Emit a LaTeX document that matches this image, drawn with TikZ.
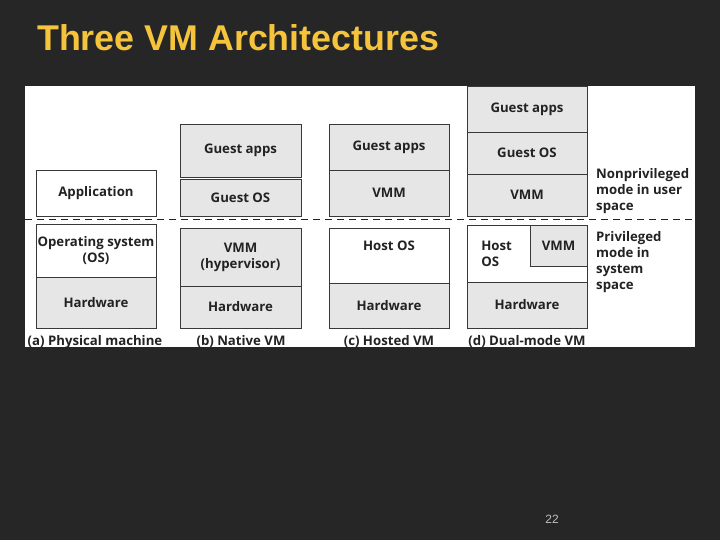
\documentclass[tikz,border=0pt]{standalone}
\usepackage{fontspec}
\setmainfont{Open Sans}
\newfontfamily\titlefont{Liberation Sans}
\usepackage{xcolor}
\usepackage{tikz}
\usetikzlibrary{positioning}

\definecolor{slidebg}{HTML}{262626}
\definecolor{titleyellow}{HTML}{F6C43C}
\definecolor{layergray}{HTML}{E6E6E6}
\definecolor{inkdark}{HTML}{222222}

\begin{document}
\begin{tikzpicture}[
  x=1pt, y=-1pt,
  layer/.style={draw=inkdark!90, line width=0.6pt, inner sep=0pt,
                align=center, font=\bfseries\fontsize{13.2}{16}\selectfont,
                text=inkdark},
  shade/.style={layer, fill=layergray},
  plain/.style={layer, fill=white},
  caption/.style={font=\bfseries\fontsize{13.2}{15}\selectfont, text=inkdark,
                  anchor=base, inner sep=0pt},
  modetext/.style={font=\bfseries\fontsize{13.2}{16}\selectfont, text=inkdark,
                   align=left, anchor=north west, inner sep=0pt},
]

% === Slide background and panel ===
\fill[slidebg] (0,0) rectangle (720,540);
\useasboundingbox (0,0) rectangle (720,540);
\fill[white] (25,86) rectangle (695,347);

\node[font=\titlefont\bfseries\fontsize{35.8}{40}\selectfont, text=titleyellow,
      anchor=west, inner sep=0pt] (title) at (37,38) {Three VM Architectures};

% === (a) Physical machine ===
\node[plain, minimum width=120, minimum height=46] (appA) at (96,193) {Application};
\node[plain, minimum width=120, minimum height=53] (osA) at (96,250.5)
  {Operating system\\(OS)};
\node[shade, minimum width=120, minimum height=51] (hwA) at (96,302.5) {Hardware};

% === (b) Native VM ===
\node[shade, minimum width=121, minimum height=53] (gappsB) at (240.5,150.5) {Guest apps};
\node[shade, minimum width=121, minimum height=37] (gosB) at (240.5,197.5) {Guest OS};
\node[shade, minimum width=121, minimum height=58] (vmmB) at (240.5,257)
  {VMM\\(hypervisor)};
\node[shade, minimum width=121, minimum height=42] (hwB) at (240.5,307) {Hardware};

% === (c) Hosted VM ===
\node[shade, minimum width=120, minimum height=46] (gappsC) at (389,147) {Guest apps};
\node[shade, minimum width=120, minimum height=46] (vmmC) at (389,193) {VMM};
\node[plain, minimum width=120, minimum height=55] (hostC) at (389,255.5) {};
\node[layer, draw=none] (hostCtext) at (389,246) {Host OS};
\node[shade, minimum width=120, minimum height=45] (hwC) at (389,305.5) {Hardware};

% === (d) Dual-mode VM ===
\node[shade, minimum width=120, minimum height=46] (gappsD) at (527,109) {Guest apps};
\node[shade, minimum width=120, minimum height=42] (gosD) at (527,153) {Guest OS};
\node[shade, minimum width=120, minimum height=42] (vmmD) at (527,195) {VMM};
\node[plain, minimum width=120, minimum height=57] (hostD) at (527,253.5) {};
\node[layer, draw=none, align=left, anchor=west] (hostDtext) at (481,254) {Host\\OS};
\node[shade, minimum width=57, minimum height=41, anchor=north east] (kvmmD)
  at (hostD.north east) {VMM};
\node[shade, minimum width=120, minimum height=46] (hwD) at (527,305) {Hardware};

% === Mode boundary ===
\coordinate (sepL) at (25,219);
\coordinate (sepR) at (695,219);
\draw[inkdark, line width=0.7pt, dash pattern=on 7pt off 5pt] (sepL) -- (sepR);

\node[modetext] (userspace) at (596,168)
  {Nonprivileged\\mode in user\\space};
\node[modetext] (sysspace) at (596,231.5)
  {Privileged\\mode in\\system\\space};

% === Captions ===
\node[caption] (capA) at (95,345) {(a) Physical machine};
\node[caption] (capB) at (241,345) {(b) Native VM};
\node[caption] (capC) at (389,345) {(c) Hosted VM};
\node[caption] (capD) at (527,345) {(d) Dual-mode VM};

\node[font=\titlefont\fontsize{12}{14}\selectfont, text=white!75!black]
  (pagenum) at (552,519) {22};

\end{tikzpicture}
\end{document}
